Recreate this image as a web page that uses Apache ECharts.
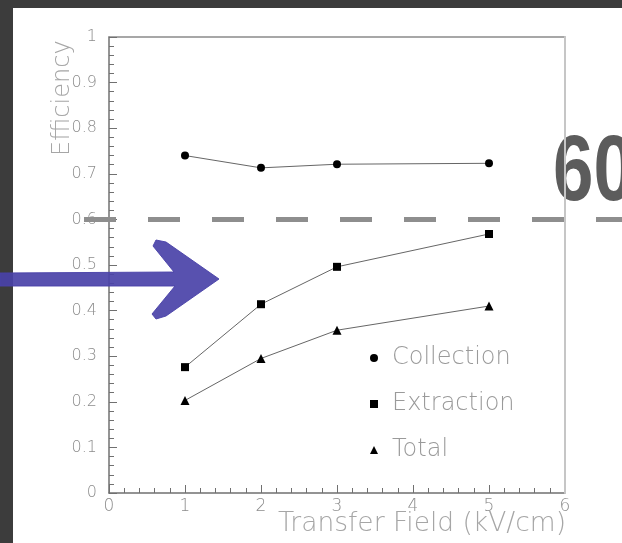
<!DOCTYPE html>
<html>
<head>
<meta charset="utf-8">
<script src="https://cdn.jsdelivr.net/npm/echarts@6/dist/echarts.min.js"></script>
<style>
  html, body { margin: 0; padding: 0; background: #ffffff; }
  #chart { width: 622px; height: 543px; }
</style>
</head>
<body>
<div id="chart"></div>
<script>
// Transfer field (kV/cm) at which each efficiency was measured
const fieldKV = [1, 2, 3, 5];
// Efficiencies per field value
const collection = [0.740, 0.713, 0.721, 0.723];
const extraction = [0.276, 0.414, 0.496, 0.568];
const total = [0.203, 0.295, 0.357, 0.410];
// Target efficiency drawn as a dashed reference line
const threshold = 0.6;

const seriesNames = ['Collection', 'Extraction', 'Total'];
const seriesSymbols = ['circle', 'rect', 'triangle'];

const FONT = "'DejaVu Sans', sans-serif";
const THIN = 200;
const LABEL_GREY = '#8c8c8c';
const AXIS_GREY = '#707070';

const chart = echarts.init(document.getElementById('chart'), null, { renderer: 'canvas' });

function pairs(ys) {
  return fieldKV.map((x, i) => [x, ys[i]]);
}

function lineSeries(name, symbol, ys) {
  return {
    type: 'line',
    name: name,
    data: pairs(ys),
    symbol: symbol,
    symbolSize: symbol === 'triangle' ? 9 : 8,
    itemStyle: { color: '#000000' },
    lineStyle: { color: '#666666', width: 1 },
    emphasis: { disabled: true },
    z: 5
  };
}

const mainAxisCommon = {
  axisLine: { show: true, onZero: false, lineStyle: { color: AXIS_GREY, width: 1.5 } },
  axisTick: { show: true, inside: true, length: 8, lineStyle: { color: AXIS_GREY, width: 1 } },
  minorTick: { show: true, splitNumber: 5, length: 5, lineStyle: { color: AXIS_GREY, width: 1 } },
  splitLine: { show: false },
  minorSplitLine: { show: false }
};

chart.setOption({
  animation: false,
  backgroundColor: '#ffffff',
  grid: { left: 109, right: 57, top: 37, bottom: 50 },
  xAxis: [
    Object.assign({
      type: 'value', min: 0, max: 6, interval: 1, position: 'bottom',
      axisLabel: { color: LABEL_GREY, fontSize: 17, fontFamily: FONT, fontWeight: THIN, margin: 5 }
    }, mainAxisCommon),
    {
      type: 'value', min: 0, max: 6, interval: 1, position: 'top',
      axisLine: { show: true, onZero: false, lineStyle: { color: '#8a8a8a', width: 1.5 } },
      axisTick: { show: false }, axisLabel: { show: false }, splitLine: { show: false }
    }
  ],
  yAxis: [
    Object.assign({
      type: 'value', min: 0, max: 1, interval: 0.1, position: 'left',
      axisLabel: { color: LABEL_GREY, fontSize: 16, fontFamily: FONT, fontWeight: THIN, margin: 12 }
    }, mainAxisCommon),
    {
      type: 'value', min: 0, max: 1, interval: 0.1, position: 'right', z: 50,
      axisLine: { show: true, onZero: false, lineStyle: { color: '#c6c6c6', width: 2 } },
      axisTick: { show: false }, axisLabel: { show: false }, splitLine: { show: false }
    }
  ],
  legend: {
    orient: 'vertical',
    left: 365,
    top: 341,
    itemWidth: 8,
    itemHeight: 8,
    itemGap: 22,
    selectedMode: false,
    textStyle: {
      color: '#9a9a9a', fontSize: 24, fontFamily: FONT, fontWeight: THIN,
      lineHeight: 24, padding: [0, 0, 0, 9]
    },
    data: seriesNames.map((n, i) => ({ name: n, icon: seriesSymbols[i] }))
  },
  series: [
    lineSeries(seriesNames[0], seriesSymbols[0], collection),
    lineSeries(seriesNames[1], seriesSymbols[1], extraction),
    lineSeries(seriesNames[2], seriesSymbols[2], total)
  ]
});

// Reference line position comes from the y axis scale
const yThr = chart.convertToPixel({ yAxisIndex: 0 }, threshold);

chart.setOption({
  graphic: [
    // dark frame bands
    { type: 'rect', shape: { x: 0, y: 0, width: 13, height: 543 }, style: { fill: '#3c3c3c' }, z: 1 },
    { type: 'rect', shape: { x: 0, y: 0, width: 622, height: 8 }, style: { fill: '#3c3c3c' }, z: 1 },
    // axis titles
    {
      type: 'text', x: 63, y: 156, rotation: Math.PI / 2,
      style: {
        text: 'Efficiency', fill: '#a6a6a6', fontSize: 24, fontFamily: FONT, fontWeight: THIN,
        align: 'left', verticalAlign: 'middle'
      }, z: 3
    },
    {
      type: 'text', x: 566, y: 524,
      style: {
        text: 'Transfer Field (kV/cm)', fill: '#a6a6a6', fontSize: 26.5, fontFamily: FONT, fontWeight: THIN,
        align: 'right', verticalAlign: 'middle'
      }, z: 3
    },
    // percentage callout, condensed horizontally
    {
      type: 'text', x: 553, y: 175, scaleX: 0.79, scaleY: 1,
      style: {
        text: String(Math.round(threshold * 100)), fill: '#5c5c5c',
        fontSize: 92, fontWeight: 'bold', fontFamily: "'Liberation Sans', sans-serif",
        align: 'left', verticalAlign: 'middle'
      }, z: 0
    },
    // dashed threshold line
    {
      type: 'line', shape: { x1: 84, y1: yThr, x2: 622, y2: yThr },
      style: { stroke: '#8e8e8e', lineWidth: 5, lineDash: [32, 32] }, z: 10
    },
    // hand-drawn arrow
    {
      type: 'polygon',
      shape: {
        points: [
          [0, 273], [174, 272], [153, 246], [156, 240], [166, 242], [219, 279],
          [166, 316], [156, 319], [152, 314], [175, 286], [0, 286]
        ]
      },
      style: { fill: '#4a42a8', stroke: '#4a42a8', lineWidth: 1, lineJoin: 'round', opacity: 0.92 },
      z: 20
    }
  ]
});
</script>
</body>
</html>
